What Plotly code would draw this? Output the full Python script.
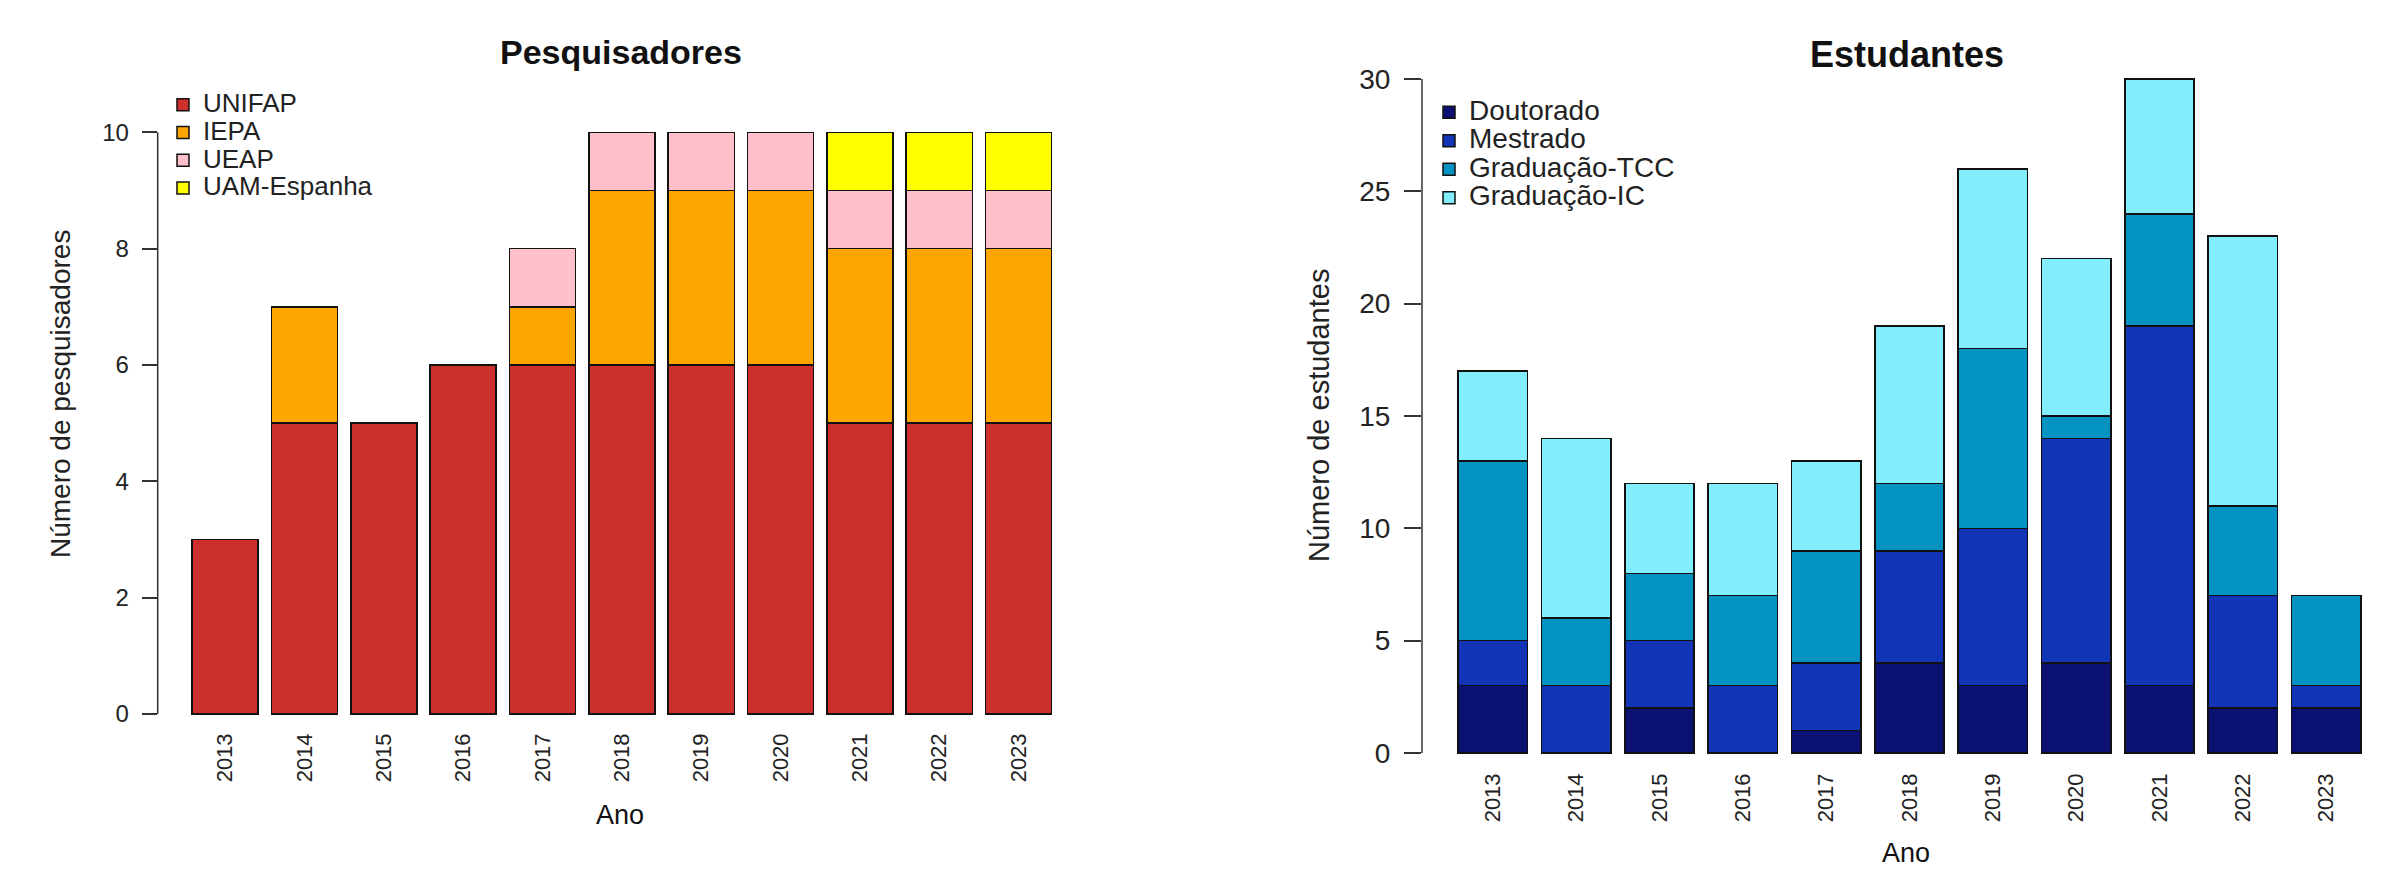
import plotly.graph_objects as go

# page is drawn with an 8px body margin; figure sized to fill the rest of the window
OFF = 8
W, H = 2397 - OFF, 869 - OFF

anos = ["2013", "2014", "2015", "2016", "2017", "2018", "2019", "2020", "2021", "2022", "2023"]

# Pesquisadores
unifap = [3, 5, 5, 6, 6, 6, 6, 6, 5, 5, 5]
iepa = [0, 2, 0, 0, 1, 3, 3, 3, 3, 3, 3]
ueap = [0, 0, 0, 0, 1, 1, 1, 1, 1, 1, 1]
uam = [0, 0, 0, 0, 0, 0, 0, 0, 1, 1, 1]
pesq_names = ["UNIFAP", "IEPA", "UEAP", "UAM-Espanha"]
pesq_colors = ["#CD2F2C", "#FFA500", "#FFC0CB", "#FFFF00"]

# Estudantes
doutorado = [3, 0, 2, 0, 1, 4, 3, 4, 3, 2, 2]
mestrado = [2, 3, 3, 3, 3, 5, 7, 10, 16, 5, 1]
grad_tcc = [8, 3, 3, 4, 5, 3, 8, 1, 5, 4, 4]
grad_ic = [4, 8, 4, 5, 4, 7, 8, 7, 6, 12, 0]
est_names = ["Doutorado", "Mestrado", "Graduação-TCC", "Graduação-IC"]
est_colors = ["#0A1172", "#1235B8", "#0492C2", "#82EEFD"]

FONT = "Liberation Sans, Arial, sans-serif"

fig = go.Figure()
for name, vals, col in zip(pesq_names, [unifap, iepa, ueap, uam], pesq_colors):
    fig.add_trace(go.Bar(x=anos, y=vals, name=f'<span style="font-size:26px">{name}</span>',
                         marker=dict(color=col, line=dict(color="#111111", width=1.5)),
                         xaxis="x", yaxis="y", legend="legend"))
for name, vals, col in zip(est_names, [doutorado, mestrado, grad_tcc, grad_ic], est_colors):
    fig.add_trace(go.Bar(x=anos, y=vals, name=f'<span style="font-size:28px">{name}</span>',
                         marker=dict(color=col, line=dict(color="#111111", width=1.5)),
                         xaxis="x2", yaxis="y2", legend="legend2"))

def px(x):
    return (x - OFF) / W

def py(y):
    return 1 - (y - OFF) / H

# panel geometry (window pixels)
L_left, L_right, L_top, L_bot, L_zero = 157.7, 1086, 109, 728, 714
l_scale = (L_zero - L_top) / 10.4
R_left, R_right, R_top, R_bot, R_zero = 1422, 2397, 52, 768, 753
r_scale = (R_zero - R_top) / 31.2

xcommon = dict(type="category", range=[-0.85, 10.85], showline=False, ticks="", showgrid=False, zeroline=False,
               tickangle=-90, tickfont=dict(family=FONT, size=22, color="#222"))

fig.update_layout(
    width=W, height=H, margin=dict(l=0, r=0, t=0, b=0),
    paper_bgcolor="white", plot_bgcolor="white",
    barmode="stack", bargap=0.1667, showlegend=True,
    font=dict(family=FONT, color="#222"),
    xaxis=dict(domain=[px(L_left), px(L_right)], anchor="y", **xcommon),
    yaxis=dict(domain=[py(L_bot), py(L_top)], anchor="x", range=[-(L_bot - L_zero) / l_scale, 10.4],
               tickvals=[0, 2, 4, 6, 8, 10], ticks="outside", ticklen=15, tickwidth=1.5, tickcolor="#333",
               showgrid=False, zeroline=False, showline=False, ticklabelstandoff=8,
               tickfont=dict(family=FONT, size=24, color="#222")),
    xaxis2=dict(domain=[px(R_left), px(R_right)], anchor="y2", **xcommon),
    yaxis2=dict(domain=[py(R_bot), py(R_top)], anchor="x2", range=[-(R_bot - R_zero) / r_scale, 31.2],
                tickvals=[0, 5, 10, 15, 20, 25, 30], ticks="outside", ticklen=17, tickwidth=1.5, tickcolor="#333",
                showgrid=False, zeroline=False, showline=False, ticklabelstandoff=8,
                tickfont=dict(family=FONT, size=28, color="#222")),
    legend=dict(x=px(163), y=py(86), xanchor="left", yanchor="top", traceorder="normal",
                bgcolor="rgba(0,0,0,0)", font=dict(family=FONT, size=19, color="#222"), tracegroupgap=0),
    legend2=dict(x=px(1429), y=py(93), xanchor="left", yanchor="top", traceorder="normal",
                 bgcolor="rgba(0,0,0,0)", font=dict(family=FONT, size=19.6, color="#222"), tracegroupgap=0),
)

# axis lines from first to last tick (R style)
fig.add_shape(type="line", xref="x domain", yref="y", x0=0, x1=0, y0=0, y1=10, line=dict(color="#333", width=1.5))
fig.add_shape(type="line", xref="x2 domain", yref="y2", x0=0, x1=0, y0=0, y1=30, line=dict(color="#333", width=1.5))

ann = [
    dict(text="<b>Pesquisadores</b>", x=px(621), y=py(52), size=34),
    dict(text="<b>Estudantes</b>", x=px(1907), y=py(55), size=36),
    dict(text="Ano", x=px(620), y=py(815), size=27),
    dict(text="Ano", x=px(1906), y=py(853), size=27),
]
for a in ann:
    fig.add_annotation(text=a["text"], x=a["x"], y=a["y"], xref="paper", yref="paper", showarrow=False,
                       xanchor="center", yanchor="middle", font=dict(family=FONT, size=a["size"], color="#111"))
fig.add_annotation(text="Número de pesquisadores", x=px(60), y=py(394), xref="paper", yref="paper", showarrow=False,
                   textangle=-90, xanchor="center", yanchor="middle", font=dict(family=FONT, size=28, color="#222"))
fig.add_annotation(text="Número de estudantes", x=px(1319), y=py(416), xref="paper", yref="paper", showarrow=False,
                   textangle=-90, xanchor="center", yanchor="middle", font=dict(family=FONT, size=29, color="#222"))

fig.write_html("out.html")
